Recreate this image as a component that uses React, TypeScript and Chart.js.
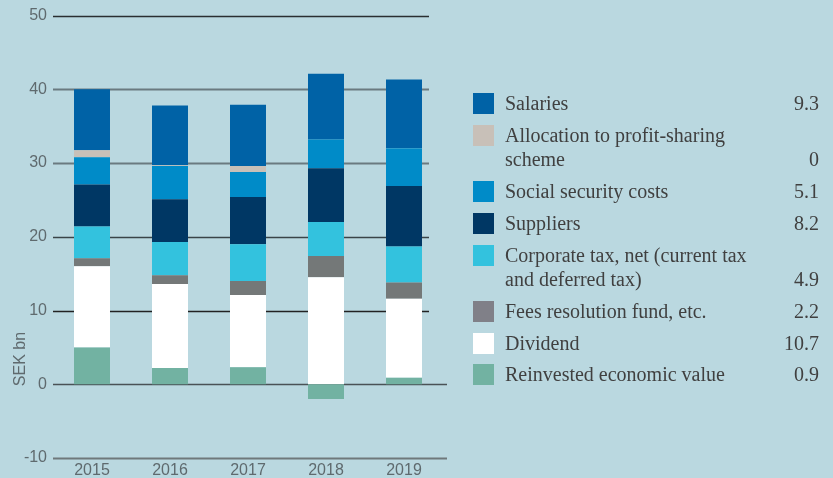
import React, { useEffect, useRef } from "react";
import { Chart, registerables } from "chart.js";

Chart.register(...registerables);

const years = ["2015", "2016", "2017", "2018", "2019"];
const reinvested = [5.0, 2.2, 2.3, -2.0, 0.9];
const dividend = [11.0, 11.4, 9.8, 14.5, 10.7];
const fees = [1.1, 1.2, 1.9, 2.9, 2.2];
const corpTax = [4.3, 4.5, 5.0, 4.6, 4.9];
const suppliers = [5.7, 5.8, 6.4, 7.3, 8.2];
const social = [3.7, 4.5, 3.4, 3.9, 5.1];
const allocation = [0.95, 0.1, 0.8, 0, 0.05];
const salaries = [8.25, 8.1, 8.3, 8.9, 9.3];

const yTicks = [50, 40, 30, 20, 10, 0, -10];

const legendLabels = [
  "Salaries",
  "Allocation to profit-sharing\nscheme",
  "Social security costs",
  "Suppliers",
  "Corporate tax, net (current tax\nand deferred tax)",
  "Fees resolution fund, etc.",
  "Dividend",
  "Reinvested economic value",
];
const legendValues = ["9.3", "0", "5.1", "8.2", "4.9", "2.2", "10.7", "0.9"];
const legendColors = [
  "#0062a6",
  "#c8c0b8",
  "#008bc8",
  "#003764",
  "#33c2de",
  "#808088",
  "#ffffff",
  "#72b2a2",
];

const BG = "#bad8e0";
const AXIS_FONT = '"Liberation Sans", Arial, sans-serif';

const gridPlugin = {
  id: "customGrid",
  beforeDatasetsDraw(chart: any) {
    const { ctx, chartArea, scales } = chart;
    const y = scales.y;
    const style: Record<number, { c: string; w: number; long: boolean }> = {
      50: { c: "#2a2f31", w: 1.3, long: false },
      40: { c: "#6a7a80", w: 2, long: false },
      30: { c: "#6a7a80", w: 2, long: false },
      20: { c: "#3a4448", w: 1.5, long: false },
      10: { c: "#222222", w: 1.3, long: false },
      0: { c: "#4a5256", w: 1.5, long: true },
      [-10]: { c: "#6f787b", w: 2, long: true },
    };
    ctx.save();
    yTicks.forEach((v) => {
      const s = style[v];
      const py = Math.round(y.getPixelForValue(v)) + 0.5;
      ctx.beginPath();
      ctx.strokeStyle = s.c;
      ctx.lineWidth = s.w;
      ctx.moveTo(chartArea.left, py);
      ctx.lineTo(s.long ? chartArea.right + 4 : chartArea.right - 14, py);
      ctx.stroke();
    });
    ctx.restore();
  },
  afterDraw(chart: any) {
    const { ctx } = chart;
    ctx.save();
    ctx.translate(21, 359);
    ctx.rotate(-Math.PI / 2);
    ctx.fillStyle = "#5f6a6e";
    ctx.font = "16px " + AXIS_FONT;
    ctx.textAlign = "center";
    ctx.textBaseline = "middle";
    ctx.fillText("SEK bn", 0, 0);
    ctx.restore();
  },
};

export default function App() {
  const canvasRef = useRef<HTMLCanvasElement | null>(null);

  useEffect(() => {
    const canvas = canvasRef.current;
    if (!canvas) return;
    const seriesData = [reinvested, dividend, fees, corpTax, suppliers, social, allocation, salaries];
    const seriesNames = [
      "Reinvested economic value",
      "Dividend",
      "Fees resolution fund, etc.",
      "Corporate tax, net",
      "Suppliers",
      "Social security costs",
      "Allocation to profit-sharing scheme",
      "Salaries",
    ];
    const seriesColors = [
      "#72b2a2",
      "#ffffff",
      "#747878",
      "#33c2de",
      "#003764",
      "#008bc8",
      "#c8c0b8",
      "#0062a6",
    ];
    const chart = new Chart(canvas, {
      type: "bar",
      data: {
        labels: years,
        datasets: seriesData.map((d, i) => ({
          label: seriesNames[i],
          data: d,
          backgroundColor: seriesColors[i],
          borderWidth: 0,
          barPercentage: 0.4615,
          categoryPercentage: 1,
        })),
      },
      options: {
        animation: false,
        responsive: false,
        devicePixelRatio: 1,
        layout: { padding: { top: 15, right: 390, left: 0, bottom: 0 } },
        plugins: { legend: { display: false }, tooltip: { enabled: false } },
        scales: {
          x: {
            stacked: true,
            grid: { display: false, drawTicks: false },
            border: { display: false },
            ticks: {
              color: "#5f6a6e",
              font: { family: AXIS_FONT, size: 16 },
              padding: 3,
            },
            afterFit: (s: any) => {
              s.height = 20;
            },
          },
          y: {
            stacked: true,
            min: -10,
            max: 50,
            grid: { display: false, drawTicks: false },
            border: { display: false },
            ticks: {
              stepSize: 10,
              color: "#5f6a6e",
              font: { family: AXIS_FONT, size: 16 },
              padding: 6,
            },
            afterFit: (s: any) => {
              s.width = 53;
            },
          },
        },
      },
      plugins: [gridPlugin],
    });
    return () => chart.destroy();
  }, []);

  return (
    <div
      style={{
        position: "fixed",
        left: 0,
        top: 0,
        width: 833,
        height: 478,
        background: BG,
        overflow: "hidden",
      }}
    >
      <canvas ref={canvasRef} width={833} height={478} style={{ position: "absolute", left: 0, top: 0 }} />
      <div
        style={{
          position: "absolute",
          left: 473,
          top: 91,
          width: 346,
          fontFamily: '"Liberation Serif", serif',
          fontSize: 20,
          color: "#404040",
          lineHeight: "24.7px",
        }}
      >
        {legendLabels.map((lab, i) => (
          <div key={i} style={{ display: "flex", alignItems: "flex-start", marginBottom: 7 }}>
            <div
              style={{
                width: 21,
                height: 21,
                marginTop: 2,
                flexShrink: 0,
                background: legendColors[i],
              }}
            />
            <div style={{ marginLeft: 11, flex: 1, whiteSpace: "pre" }}>{lab}</div>
            <div style={{ alignSelf: "flex-end", textAlign: "right" }}>{legendValues[i]}</div>
          </div>
        ))}
      </div>
    </div>
  );
}
